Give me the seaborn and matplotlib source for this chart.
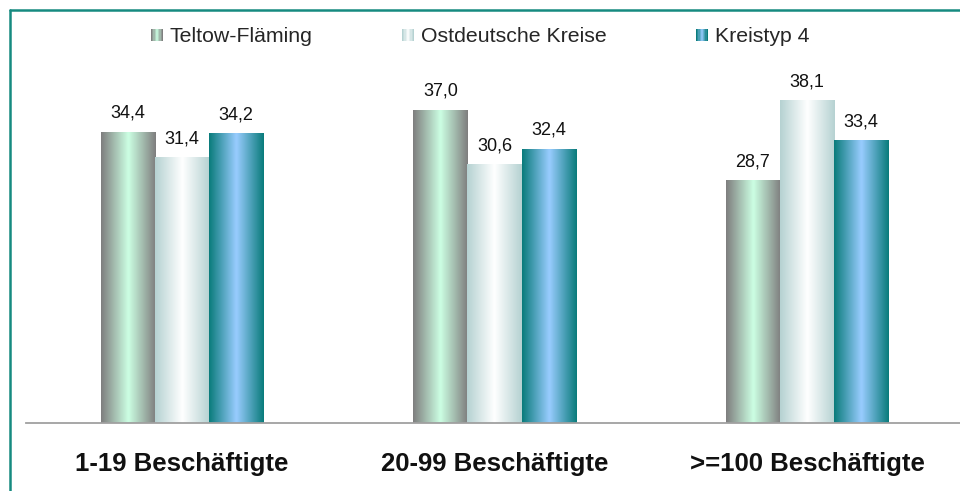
import numpy as np
import pandas as pd
import matplotlib
matplotlib.use("Agg")
import matplotlib.pyplot as plt
from matplotlib.colors import to_rgb
from matplotlib.patches import Patch, Rectangle
from matplotlib.legend_handler import HandlerBase
from matplotlib.lines import Line2D
import seaborn as sns

# Daten
kategorien = ["1-19 Beschäftigte", "20-99 Beschäftigte", ">=100 Beschäftigte"]
regionen = ["Teltow-Fläming", "Ostdeutsche Kreise", "Kreistyp 4"]
teltow = [34.4, 37.0, 28.7]
ost = [31.4, 30.6, 38.1]
kreistyp4 = [34.2, 32.4, 33.4]

# Farbverlauf je Reihe: (Rand, Mitte)
verlauf = {
    "Teltow-Fläming": ("#7f7f7f", "#ccffe3"),
    "Ostdeutsche Kreise": ("#b6d2d2", "#ffffff"),
    "Kreistyp 4": ("#0b7c7c", "#99ccff"),
}


def gradient_row(edge, center, n=64):
    e = np.array(to_rgb(edge))
    c = np.array(to_rgb(center))
    t = np.abs(np.linspace(0, 1, n) - 0.5) * 2
    return (c[None, :] + (e - c)[None, :] * t[:, None])[None, :, :]


class GradientHandler(HandlerBase):
    def __init__(self, edge, center):
        super().__init__()
        self.edge, self.center = edge, center

    def create_artists(self, legend, orig_handle, xdescent, ydescent,
                       width, height, fontsize, trans):
        row = gradient_row(self.edge, self.center, n=10)[0]
        w = width / len(row)
        return [Rectangle((-xdescent + k * w, -ydescent), w * 1.02, height,
                          facecolor=col, edgecolor="none", transform=trans)
                for k, col in enumerate(row)]


df = pd.DataFrame({
    "Kategorie": kategorien * 3,
    "Region": np.repeat(regionen, 3),
    "Wert": teltow + ost + kreistyp4,
})

sns.set_style("white")
plt.rcParams["font.family"] = ["Liberation Sans", "DejaVu Sans"]

fig = plt.figure(figsize=(9.6, 4.91), dpi=100)
ax = fig.add_axes([25.75 / 960, 68 / 491, 937.5 / 960, 363 / 491])

sns.barplot(data=df, x="Kategorie", y="Wert", hue="Region", width=0.52,
            ax=ax, legend=False, saturation=1)

ymax = 42.86
for cont, reg in zip(ax.containers, regionen):
    edge, center = verlauf[reg]
    img = gradient_row(edge, center)
    for bar in cont:
        bar.set_facecolor("none")
        bar.set_edgecolor("none")
        x0, y0 = bar.get_x(), bar.get_y()
        im = ax.imshow(img, extent=(x0, x0 + bar.get_width(), y0, y0 + bar.get_height()),
                       aspect="auto", interpolation="bilinear", zorder=2)
        im.set_clip_path(bar)
    labels = [f"{v:.1f}".replace(".", ",") for v in cont.datavalues]
    ax.bar_label(cont, labels=labels, padding=7, fontsize=13, color="#111111")

ax.set_xlim(-0.5, 2.5)
ax.set_ylim(0, ymax)
ax.set_xlabel("")
ax.set_ylabel("")
ax.set_yticks([])
for s in ["left", "right", "top"]:
    ax.spines[s].set_visible(False)
ax.spines["bottom"].set_color("#a0a0a0")
ax.spines["bottom"].set_linewidth(1.3)
ax.tick_params(axis="x", length=0, pad=21)
for lab in ax.get_xticklabels():
    lab.set_fontsize(18.5)
    lab.set_fontweight("bold")
    lab.set_color("#111111")

handles = [Patch(label=r) for r in regionen]
hmap = {h: GradientHandler(*verlauf[r]) for h, r in zip(handles, regionen)}
fig.legend(handles=handles, handler_map=hmap, loc="center left",
           bbox_to_anchor=(151 / 960, 1 - 37 / 491), bbox_transform=fig.transFigure,
           ncol=3, frameon=False, fontsize=15.3, borderpad=0, borderaxespad=0,
           handlelength=0.56, handleheight=0.56, handletextpad=0.33,
           columnspacing=4.2)

# Rahmen oben und links
teal = "#168a80"
fig.add_artist(Line2D([10 / 960, 1.0], [1 - 10 / 491] * 2, color=teal, lw=1.8,
                      transform=fig.transFigure))
fig.add_artist(Line2D([10 / 960] * 2, [0.0, 1 - 10 / 491], color=teal, lw=1.8,
                      transform=fig.transFigure))

fig.savefig("out.png", dpi=100)
